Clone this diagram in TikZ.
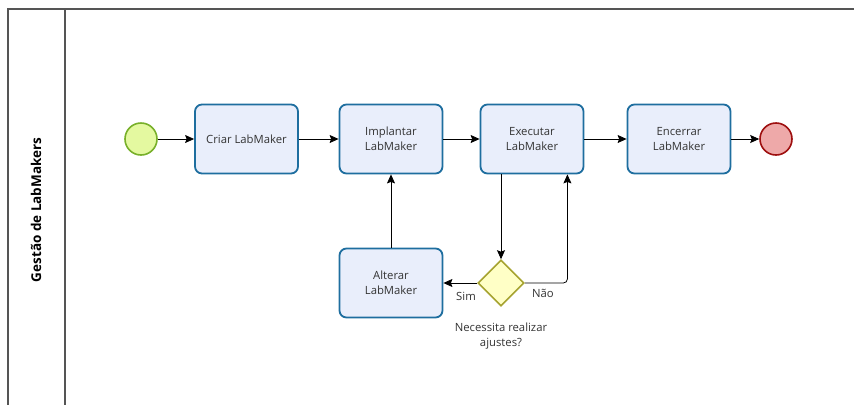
\documentclass[tikz,border=0pt]{standalone}
\usepackage{fontspec}
\setmainfont{Open Sans}
\usepackage{tikz}
\usetikzlibrary{shapes.geometric,arrows.meta}
\usepackage{xcolor}

\definecolor{tarefafill}{HTML}{E9EEFB}
\definecolor{tarefaborda}{HTML}{1E6E9F}
\definecolor{iniciofill}{HTML}{E4F9A0}
\definecolor{inicioborda}{HTML}{78B02A}
\definecolor{fimfill}{HTML}{EEA9A9}
\definecolor{fimborda}{HTML}{9E0F0F}
\definecolor{decfill}{HTML}{FFFFC6}
\definecolor{decborda}{HTML}{A6A330}
\definecolor{texto}{HTML}{333333}
\definecolor{raia}{HTML}{555555}

\begin{document}
\begin{tikzpicture}[x=1pt,y=-1pt]

		\useasboundingbox (0,0) rectangle (854,405);
		\tikzset{tarefa/.style={draw=tarefaborda, fill=tarefafill, line width=1.8pt, rounded corners=7pt, minimum width=103pt, minimum height=69pt, align=center, text=texto, font=\fontsize{11.3}{15.5}\selectfont}}
		\tikzset{evento/.style={draw, circle, line width=1.6pt, minimum size=32pt, inner sep=0pt}}
		\tikzset{seta/.style={-{Stealth[length=9pt,width=8pt,inset=1.5pt]}, line width=0.8pt}}
		\tikzset{rotulo/.style={text=texto, font=\fontsize{11.3}{15.5}\selectfont, align=center}}

		% raia
		\draw[raia, line width=1.6pt] (854,9) -- (8,9) -- (8,405);
		\draw[raia, line width=1.6pt] (65,9) -- (65,405);
		\node[rotate=90, font=\bfseries\fontsize{13.5}{16}\selectfont, text=black] (raia) at (36,210) {Gestão de LabMakers};

		\node[evento, draw=inicioborda, fill=iniciofill] (I) at (141,139) {};
		\node[tarefa] (C) at (246.5,139) {Criar LabMaker};
		\node[tarefa] (P) at (391,139) {Implantar\\LabMaker};
		\node[tarefa] (E) at (532,139) {Executar\\LabMaker};
		\node[tarefa] (N) at (679,139) {Encerrar\\LabMaker};
		\node[evento, draw=fimborda, fill=fimfill] (F) at (776,139) {};
		\node[tarefa] (A) at (391,283) {Alterar\\LabMaker};
		\node[draw=decborda, fill=decfill, diamond, aspect=1, line width=1.6pt, minimum size=46pt, inner sep=0pt] (D) at (501,283) {};

    \draw[seta] (I) -- (C);
    \draw[seta] (C) -- (P);
    \draw[seta] (P) -- (E);
    \draw[seta] (E) -- (N);
    \draw[seta] (N) -- (F);
    \draw[seta] (E.south -| D.north) -- (D.north);
    \draw[seta] (D.west) -- (A.east);
    \draw[seta, rounded corners=4pt] (D.east) -| ([xshift=-17pt]E.south east);
    \draw[seta] (A.north) -- (P.south);

    \node[rotulo] (sim) at (466,296) {Sim};
    \node[rotulo] (nao) at (543,293) {Não};
    \node[rotulo] (pergunta) at (501,336) {Necessita realizar\\ajustes?};

		\end{tikzpicture}
\end{document}
